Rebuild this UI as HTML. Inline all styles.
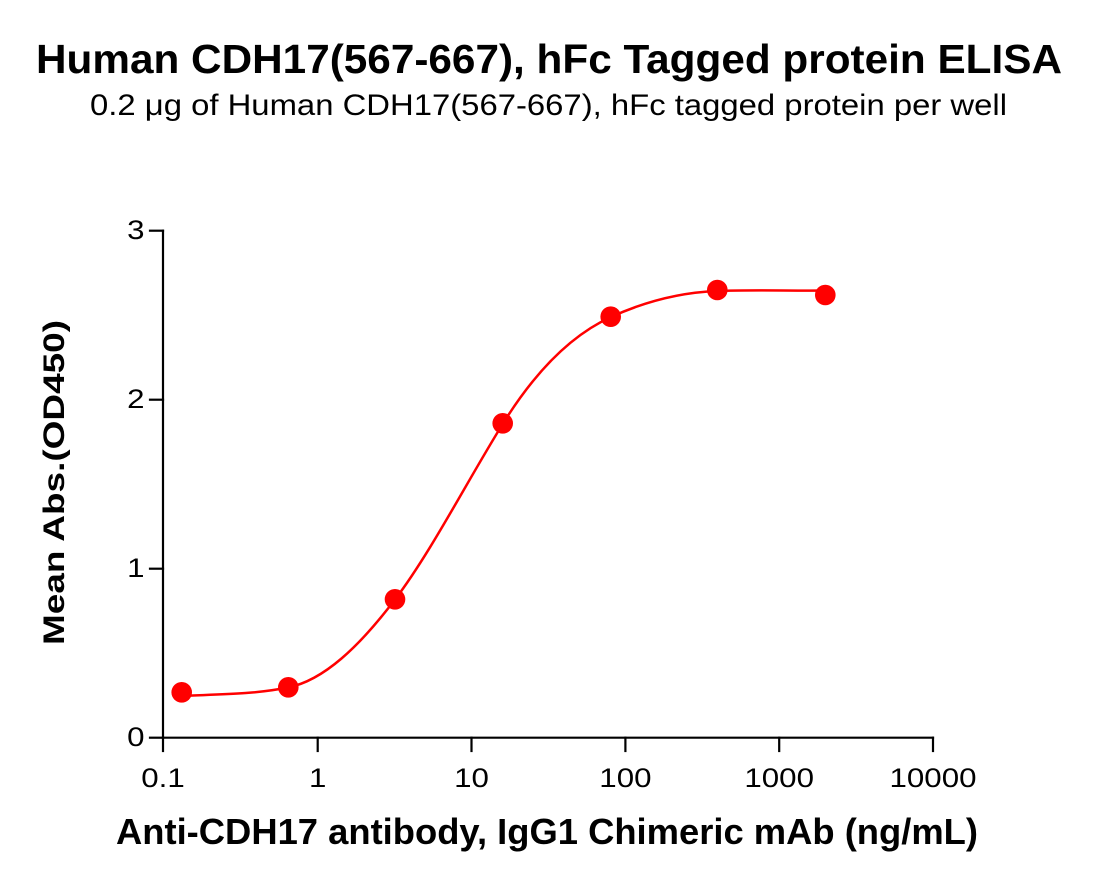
<!DOCTYPE html>
<html>
<head>
<meta charset="utf-8">
<style>
  html, body { margin: 0; padding: 0; background: #ffffff; }
  svg { display: block; }
  text { font-family: "Liberation Sans", Arial, sans-serif; fill: #000; }
</style>
</head>
<body>
<svg width="1102" height="886" viewBox="0 0 1102 886" xmlns="http://www.w3.org/2000/svg">
  <rect x="0" y="0" width="1102" height="886" fill="#ffffff"/>

  <!-- Titles -->
  <text x="36" y="73" font-size="41" font-weight="bold" textLength="1026" lengthAdjust="spacingAndGlyphs">Human CDH17(567-667), hFc Tagged protein ELISA</text>
  <text x="90" y="115" font-size="30" textLength="917" lengthAdjust="spacingAndGlyphs">0.2 μg of Human CDH17(567-667), hFc tagged protein per well</text>

  <!-- Axes -->
  <g stroke="#000" stroke-width="2.2" fill="none" stroke-linecap="square">
    <line x1="163" y1="230.7" x2="163" y2="737.7"/>
    <line x1="163" y1="737.7" x2="933" y2="737.7"/>
    <!-- y ticks -->
    <line x1="150" y1="230.7" x2="163" y2="230.7"/>
    <line x1="150" y1="399.7" x2="163" y2="399.7"/>
    <line x1="150" y1="568.7" x2="163" y2="568.7"/>
    <line x1="150" y1="737.7" x2="163" y2="737.7"/>
    <!-- x ticks -->
    <line x1="163" y1="737.7" x2="163" y2="751"/>
    <line x1="317.7" y1="737.7" x2="317.7" y2="751"/>
    <line x1="471.5" y1="737.7" x2="471.5" y2="751"/>
    <line x1="625.4" y1="737.7" x2="625.4" y2="751"/>
    <line x1="779.2" y1="737.7" x2="779.2" y2="751"/>
    <line x1="933" y1="737.7" x2="933" y2="751"/>
  </g>

  <!-- Y tick labels -->
  <g font-size="27" text-anchor="end">
    <text x="144.5" y="239" textLength="17.4" lengthAdjust="spacingAndGlyphs">3</text>
    <text x="144.5" y="408" textLength="17.4" lengthAdjust="spacingAndGlyphs">2</text>
    <text x="144.5" y="577" textLength="17.4" lengthAdjust="spacingAndGlyphs">1</text>
    <text x="144.5" y="746" textLength="17.4" lengthAdjust="spacingAndGlyphs">0</text>
  </g>

  <!-- X tick labels -->
  <g font-size="27" text-anchor="middle">
    <text x="163" y="787" textLength="43.5" lengthAdjust="spacingAndGlyphs">0.1</text>
    <text x="317.7" y="787" textLength="17.4" lengthAdjust="spacingAndGlyphs">1</text>
    <text x="471.5" y="787" textLength="34.8" lengthAdjust="spacingAndGlyphs">10</text>
    <text x="625.4" y="787" textLength="52.2" lengthAdjust="spacingAndGlyphs">100</text>
    <text x="779.2" y="787" textLength="69.6" lengthAdjust="spacingAndGlyphs">1000</text>
    <text x="933" y="787" textLength="87" lengthAdjust="spacingAndGlyphs">10000</text>
  </g>

  <!-- Axis titles -->
  <text x="547" y="844" font-size="36" font-weight="bold" text-anchor="middle" textLength="862" lengthAdjust="spacingAndGlyphs">Anti-CDH17 antibody, IgG1 Chimeric mAb (ng/mL)</text>
  <text transform="translate(64,482.5) rotate(-90)" x="0" y="0" font-size="30" font-weight="bold" text-anchor="middle" textLength="325" lengthAdjust="spacingAndGlyphs">Mean Abs.(OD450)</text>

  <!-- Fit curve -->
  <path d="M180,696 C216,694.3 252,694.7 288,687.5 C323.7,680.4 359.3,646.6 395,599.5 C431,552 467,481.5 503,423.5 C539,365.5 575,333.4 611,317 C646.3,300.9 681.7,292.4 717,291 C753,289.6 789,290.9 825,290.5"
        fill="none" stroke="#ff0000" stroke-width="2.5" stroke-linejoin="round" stroke-linecap="round"/>

  <!-- Data points -->
  <g fill="#ff0000">
    <circle cx="181.7" cy="692.3" r="10.3"/>
    <circle cx="288.3" cy="687.3" r="10.3"/>
    <circle cx="395" cy="599.3" r="10.3"/>
    <circle cx="502.7" cy="423.3" r="10.3"/>
    <circle cx="610.7" cy="316.7" r="10.3"/>
    <circle cx="717.3" cy="290" r="10.3"/>
    <circle cx="825.3" cy="295" r="10.3"/>
  </g>
</svg>
</body>
</html>
